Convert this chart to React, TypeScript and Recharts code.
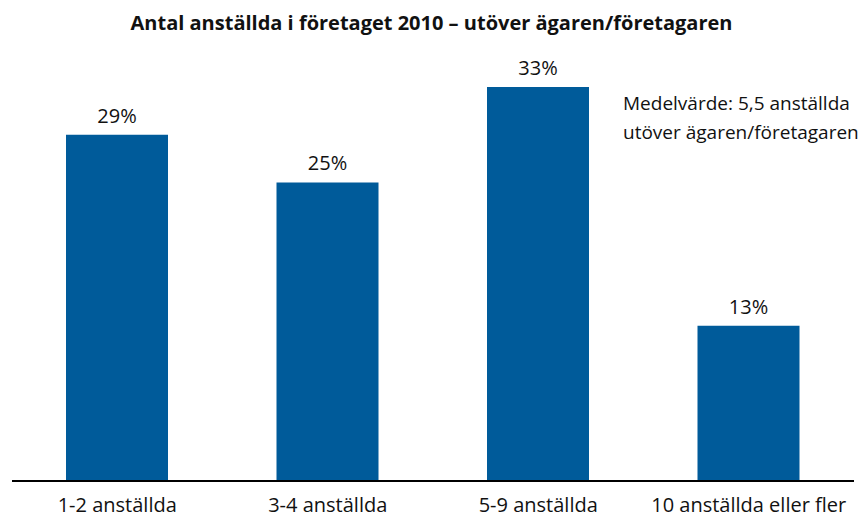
import React from 'react';
import { BarChart, Bar, XAxis, YAxis, LabelList } from 'recharts';

const categories = ['1-2 anställda', '3-4 anställda', '5-9 anställda', '10 anställda eller fler'];
const shares = [29, 25, 33, 13];
const title = 'Antal anställda i företaget 2010 – utöver ägaren/företagaren';
const noteLines = ['Medelvärde: 5,5 anställda', 'utöver ägaren/företagaren'];

const data = categories.map((c, i) => ({ name: c, value: shares[i] }));

const FONT = '"Open Sans", sans-serif';

export default function App() {
  return (
    <div style={{ position: 'absolute', left: 0, top: 0, width: 863, height: 519, background: '#fff', fontFamily: FONT }}>
      <div style={{ position: 'absolute', left: 0, top: 10, width: 863, textAlign: 'center', fontWeight: 700, fontSize: 20, letterSpacing: 0, color: '#111', lineHeight: '26px' }}>
        {title}
      </div>
      <div style={{ position: 'absolute', left: 623, top: 89, fontSize: 19, letterSpacing: 0, color: '#111', lineHeight: '29px', whiteSpace: 'nowrap' }}>
        {noteLines.map((l) => (<div key={l}>{l}</div>))}
      </div>
      <BarChart width={863} height={519} data={data} margin={{ top: 63, right: 9, left: 12, bottom: 0 }}>
        <YAxis hide domain={[0, 35]} />
        <XAxis
          dataKey="name"
          height={38}
          axisLine={{ stroke: '#000', strokeWidth: 2 }}
          tickLine={false}
          interval={0}
          tick={{ fill: '#111', fontSize: 20, fontFamily: FONT }}
          tickMargin={11}
        />
        <Bar dataKey="value" fill="#005b9a" barSize={102} isAnimationActive={false}>
          <LabelList dataKey="value" position="top" offset={12} formatter={(v: number) => `${v}%`} style={{ fill: '#111', fontSize: 20, fontFamily: FONT }} />
        </Bar>
      </BarChart>
    </div>
  );
}
